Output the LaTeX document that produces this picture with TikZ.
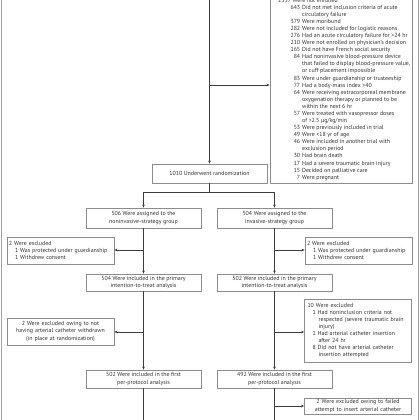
\documentclass[tikz,border=0pt]{standalone}
\usepackage{fontspec}
\setmainfont{PT Sans}
\usetikzlibrary{arrows.meta}
\definecolor{boxgray}{HTML}{8C8C8C}
\definecolor{txt}{HTML}{333333}
\definecolor{lnc}{HTML}{3C3C3C}
\definecolor{framec}{HTML}{A0A0A0}
\newcommand\fs{\fontsize{5.9}{7.08}\selectfont}
\newcommand\nmi[2]{\makebox[22pt][r]{#1}\hspace{2pt}#2}
\newcommand\ncn[1]{\hspace*{24pt}#1}
\tikzset{
  cbox/.style={draw=boxgray, line width=0.8pt, fill=white, inner sep=1pt,
    minimum width=115pt, align=center, text=txt, font=\fs},
  sbox/.style={draw=boxgray, line width=0.8pt, fill=white, inner sep=0pt,
    minimum width=107pt, text=txt, font=\fs},
  conn/.style={draw=lnc, line width=0.6pt},
  arr/.style={conn, -{Stealth[length=3pt,width=2.6pt]}}
}
\begin{document}
\begin{tikzpicture}[x=1pt,y=-1pt]
\useasboundingbox (0,0) rectangle (420,420);
\clip (0,0) rectangle (420,420);
% outer frame
\draw[framec, line width=1.2pt] (1.5,-10) rectangle (418.5,430);
% top-right exclusion box
\node[draw=boxgray, line width=0.8pt, fill=white, minimum width=142pt, minimum height=213pt, inner sep=0pt] (ex0) at (341,76.5) {};
\node[anchor=base west, inner sep=0pt, text=txt, font=\fs, align=left] (ex0t) at (278,2.2) {%
\begin{tabular}[t]{@{}l@{}}
2537 Were not enrolled\\
\nmi{643}{Did not met inclusion criteria of acute}\\
\ncn{circulatory failure}\\
\nmi{379}{Were moribund}\\
\nmi{282}{Were not included for logistic reasons}\\
\nmi{276}{Had an acute circulatory failure for >24 hr}\\
\nmi{210}{Were not enrolled on physician’s decision}\\
\nmi{165}{Did not have French social security}\\
\nmi{84}{Had noninvasive blood-pressure device}\\
\ncn{that failed to display blood-pressure value,}\\
\ncn{or cuff placement impossible}\\
\nmi{83}{Were under guardianship or trusteeship}\\
\nmi{77}{Had a body-mass index >40}\\
\nmi{64}{Were receiving extracorporeal membrane}\\
\ncn{oxygenation therapy or planned to be}\\
\ncn{within the next 6 hr}\\
\nmi{57}{Were treated with vasopressor doses}\\
\ncn{of >2.5 µg/kg/min}\\
\nmi{53}{Were previously included in trial}\\
\nmi{49}{Were <18 yr of age}\\
\nmi{46}{Were included in another trial with}\\
\ncn{exclusion period}\\
\nmi{30}{Had brain death}\\
\nmi{17}{Had a severe traumatic brain injury}\\
\nmi{15}{Decided on palliative care}\\
\nmi{7}{Were pregnant}
\end{tabular}};
% main column boxes
\node[cbox, minimum height=19pt] (rand) at (209.5,173.5) {1010 Underwent randomization};
\node[cbox, minimum height=20pt] (g1) at (143.5,218) {506 Were assigned to the\\noninvasive-strategy group};
\node[cbox, minimum height=20pt] (g2) at (274.5,218) {504 Were assigned to the\\invasive-strategy group};
\node[cbox, minimum height=17pt] (itt1) at (143.5,282.5) {504 Were included in the primary\\intention-to-treat analysis};
\node[cbox, minimum height=17pt] (itt2) at (274.5,282.5) {502 Were included in the primary\\intention-to-treat analysis};
\node[cbox, minimum height=18pt] (pp1) at (143.5,379) {502 Were included in the first\\per-protocol analysis};
\node[cbox, minimum height=18pt] (pp2) at (274.5,379) {492 Were included in the first\\per-protocol analysis};
% side boxes
\node[sbox, minimum height=27pt, align=left, text width=103pt] (exL1) at (60.5,250.5)
  {2 Were excluded\\\hspace*{6pt}1 Was protected under guardianship\\\hspace*{6pt}1 Withdrew consent};
\node[sbox, minimum height=27pt, align=left, text width=103pt] (exR1) at (358.5,250.5)
  {2 Were excluded\\\hspace*{6pt}1 Was protected under guardianship\\\hspace*{6pt}1 Withdrew consent};
\node[sbox, minimum height=27pt, align=center, text width=103pt] (exL2) at (60.5,331.5)
  {2 Were excluded owing to not\\having arterial catheter withdrawn\\(in place at randomization)};
\node[sbox, minimum height=63pt, align=left, text width=101pt] (exR2) at (358,330.5)
  {10 Were excluded\\\hspace*{5pt}1 Had noninclusion criteria not\\\hspace*{11pt}respected (severe traumatic brain\\\hspace*{11pt}injury)\\\hspace*{5pt}1 Had arterial catheter insertion\\\hspace*{11pt}after 24 hr\\\hspace*{5pt}8 Did not have arterial catheter\\\hspace*{11pt}insertion attempted};
\node[sbox, minimum height=16pt, align=center, text width=103pt] (exR3) at (358,406)
  {2 Were excluded owing to failed\\attempt to insert arterial catheter};
% connectors
\coordinate (top) at (209.5,0);
\coordinate (j0) at (209.5,85);
\draw[arr] (top) -- (rand.north);
\draw[arr] (j0) -- (j0 -| ex0.west);
\coordinate (br) at (209.5,192);
\draw[conn] (rand.south) -- (br);
\draw[arr] (br) -| (g1.north);
\draw[arr] (br) -| (g2.north);
\draw[arr] (g1.south) -- (itt1.north);
\draw[arr] (g2.south) -- (itt2.north);
\draw[arr] (itt1.south) -- (pp1.north);
\draw[arr] (itt2.south) -- (pp2.north);
\coordinate (bL) at (143.5,420);
\coordinate (bR) at (274.5,420);
\draw[conn] (pp1.south) -- (bL);
\draw[conn] (pp2.south) -- (bR);
\coordinate (jL1) at (143.5,250);
\coordinate (jR1) at (274.5,250);
\coordinate (jL2) at (143.5,332);
\coordinate (jR2) at (274.5,332);
\coordinate (jR3) at (274.5,406);
\draw[arr] (jL1) -- (jL1 -| exL1.east);
\draw[arr] (jR1) -- (jR1 -| exR1.west);
\draw[arr] (jL2) -- (jL2 -| exL2.east);
\draw[arr] (jR2) -- (jR2 -| exR2.west);
\draw[arr] (jR3) -- (jR3 -| exR3.west);
\end{tikzpicture}
\end{document}
